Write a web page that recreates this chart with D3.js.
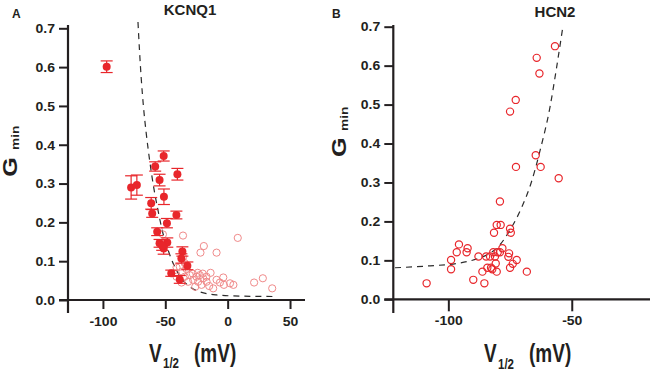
<!DOCTYPE html>
<html>
<head>
<meta charset="utf-8">
<script src="https://cdn.jsdelivr.net/npm/d3@7"></script>
<style>
  html, body { margin: 0; padding: 0; background: #fff; }
  svg { display: block; }
  text { font-family: "Liberation Sans", Arial, Helvetica, sans-serif; font-weight: bold; fill: #231f20; }
</style>
</head>
<body>
<svg id="chart" width="650" height="372"></svg>
<script>
// ---------------- DATA ----------------
const yTicks = [0.0, 0.1, 0.2, 0.3, 0.4, 0.5, 0.6, 0.7];
const xTicksA = [-100, -50, 0, 50];
const xTicksB = [-100, -50];

// Panel A (KCNQ1) filled points with error bars
const kcnqFilledV   = [-97, -77.4, -72.8, -58.1, -51.3, -54.6, -51.1, -40.3, -61.3, -60.5, -41.1, -48.7, -56.5, -54.6, -48.4, -51.3, -52.5, -36.3, -37.1, -32.3, -45.2, -38.4];
const kcnqFilledG   = [0.601, 0.290, 0.296, 0.344, 0.371, 0.309, 0.266, 0.324, 0.249, 0.223, 0.219, 0.198, 0.176, 0.146, 0.148, 0.133, 0.140, 0.125, 0.107, 0.088, 0.069, 0.053];
const kcnqFilledErr = [0.015, 0.030, 0.026, 0.012, 0.013, 0.015, 0.020, 0.015, 0.015, 0.010, 0.010, 0.012, 0.010, 0.010, 0.012, 0.015, 0.012, 0.012, 0.012, 0.010, 0.008, 0.010];

// Panel A open points
const kcnqOpenV = [-51.9, -35.8, -19.1, -21.8, -8.9, 8.1, -41, -38.4, -35.8, -34.4, -36.3, -41, -34.4, -30.4, -27.7, -25, -22.3, -19.6, -23.7, -21, -16.9, -13.7, -11.6, -8.9, -6.2, -3.5, -3, 1.9, 4.6, 21.2, 28.2, 35.7, -31.7, -37, -26, -17, -14.8, -28, -24, -20, -33];
const kcnqOpenG = [0.169, 0.166, 0.139, 0.122, 0.122, 0.160, 0.084, 0.086, 0.110, 0.095, 0.073, 0.060, 0.060, 0.064, 0.052, 0.060, 0.064, 0.056, 0.047, 0.039, 0.047, 0.070, 0.030, 0.052, 0.045, 0.058, 0.039, 0.043, 0.039, 0.045, 0.056, 0.030, 0.047, 0.045, 0.034, 0.060, 0.036, 0.068, 0.070, 0.068, 0.080];

// Panel A dashed fit
const kcnqFitV = [-71.9, -70.7, -69.4, -67.5, -65.3, -62.6, -59.4, -55.9, -51.9, -47.8, -42.5, -37.1, -30.4, -22.3, -8.9, 9.9, 36.8];
const kcnqFitG = [0.716, 0.644, 0.576, 0.498, 0.430, 0.361, 0.292, 0.232, 0.172, 0.129, 0.086, 0.056, 0.034, 0.021, 0.013, 0.010, 0.009];

// Panel B (HCN2) open points
const hcnV = [-108.8, -98.9, -98.9, -96.6, -95.7, -92.6, -92.2, -89.9, -87.8, -86.2, -85.4, -84.7, -84.2, -83.1, -82.7, -82.2, -81.8, -81.5, -81.1, -80.8, -80.4, -80.0, -80.4, -78.8, -79.1, -79.1, -78.1, -75.7, -75.4, -75.0, -74.7, -75.0, -73.9, -75.0, -72.7, -72.6, -72.3, -68.2, -64.6, -64.2, -63.1, -62.6, -56.8, -55.3];
const hcnG = [0.041, 0.101, 0.077, 0.121, 0.141, 0.121, 0.131, 0.050, 0.110, 0.071, 0.041, 0.110, 0.081, 0.110, 0.081, 0.077, 0.121, 0.171, 0.110, 0.092, 0.071, 0.121, 0.191, 0.191, 0.251, 0.121, 0.131, 0.109, 0.118, 0.181, 0.171, 0.081, 0.091, 0.482, 0.512, 0.340, 0.101, 0.071, 0.370, 0.620, 0.580, 0.340, 0.650, 0.311];

// Panel B dashed fit
const hcnFitV = [-121.6, -107.4, -96.6, -89.9, -84.5, -80.4, -75.0, -70.0, -66.5, -62.8, -58.8, -56.1, -53.6];
const hcnFitG = [0.081, 0.086, 0.092, 0.101, 0.114, 0.131, 0.178, 0.240, 0.298, 0.383, 0.494, 0.597, 0.700];

// ---------------- DRAW ----------------
const svg = d3.select("#chart");
const RED = "#e8262b";
const RED_LIGHT = "#f08a8a";
const AX = "#231f20";
const fmtTick = d => String(d);

function panel(cfg) {
  const g = svg.append("g");
  const x = d3.scaleLinear().domain(cfg.xDomain).range(cfg.xRange);
  const y = d3.scaleLinear().domain([0, 0.7]).range(cfg.yRange);
  const ax0 = cfg.xRange[0];
  const y0 = y(0);

  // y ticks
  const yAxis = g.append("g").attr("transform", `translate(${ax0},0)`)
    .call(d3.axisLeft(y).tickValues(yTicks).tickSize(9).tickPadding(4).tickFormat(d => d.toFixed(1)));
  yAxis.attr("font-family", null).attr("font-size", null);
  yAxis.select(".domain").remove();
  yAxis.selectAll("line").attr("stroke", AX).attr("stroke-width", 2);
  yAxis.selectAll("text").attr("font-size", 14).attr("fill", AX)
    .attr("dy", "0.36em").attr("transform", "scale(1,0.85)");

  // x ticks
  const xAxis = g.append("g").attr("transform", `translate(0,${y0})`)
    .call(d3.axisBottom(x).tickValues(cfg.xTicks).tickSize(cfg.xTickLen).tickPadding(4).tickFormat(fmtTick));
  xAxis.attr("font-family", null).attr("font-size", null);
  xAxis.select(".domain").remove();
  xAxis.selectAll("line").attr("stroke", AX).attr("stroke-width", 2);
  xAxis.selectAll("text").attr("font-size", 14).attr("fill", AX)
    .attr("y", 26 / 0.85).attr("dy", 0).attr("transform", "scale(1,0.85)");

  // axis lines
  g.append("line").attr("x1", ax0).attr("x2", ax0).attr("y1", cfg.yAxisTop).attr("y2", cfg.yAxisBottom)
    .attr("stroke", AX).attr("stroke-width", 2.2);
  g.append("line").attr("x1", ax0 - 9).attr("x2", cfg.xRange[1]).attr("y1", y0).attr("y2", y0)
    .attr("stroke", AX).attr("stroke-width", 2.2);

  // dashed fit
  const line = d3.line().x(d => x(d[0])).y(d => y(d[1])).curve(d3.curveMonotoneX);
  g.append("path").datum(cfg.fit).attr("d", line)
    .attr("fill", "none").attr("stroke", "#2b2b2b").attr("stroke-width", 1.2).attr("stroke-dasharray", "6,5");

  // open points
  g.append("g").selectAll("circle").data(cfg.open).join("circle")
    .attr("cx", d => x(d[0])).attr("cy", d => y(d[1])).attr("r", cfg.openR)
    .attr("fill", "none").attr("stroke", cfg.openColor).attr("stroke-width", cfg.openW);

  // filled points with error bars
  if (cfg.filled) {
    const eb = g.append("g").selectAll("g").data(cfg.filled).join("g");
    eb.append("line").attr("x1", d => x(d[0])).attr("x2", d => x(d[0]))
      .attr("y1", d => y(d[1] - d[2])).attr("y2", d => y(d[1] + d[2]))
      .attr("stroke", RED).attr("stroke-width", 1.2);
    eb.append("line").attr("x1", d => x(d[0]) - 6).attr("x2", d => x(d[0]) + 6)
      .attr("y1", d => y(d[1] + d[2])).attr("y2", d => y(d[1] + d[2]))
      .attr("stroke", RED).attr("stroke-width", 1.2);
    eb.append("line").attr("x1", d => x(d[0]) - 6).attr("x2", d => x(d[0]) + 6)
      .attr("y1", d => y(d[1] - d[2])).attr("y2", d => y(d[1] - d[2]))
      .attr("stroke", RED).attr("stroke-width", 1.2);
    eb.append("circle").attr("cx", d => x(d[0])).attr("cy", d => y(d[1])).attr("r", 4)
      .attr("fill", RED);
  }

  // title & letter
  svg.append("text").attr("x", cfg.titleX).attr("y", cfg.titleY).attr("text-anchor", "middle")
    .attr("font-size", 15).attr("fill", AX).text(cfg.title);
  svg.append("text").attr("x", cfg.letterX).attr("y", cfg.letterY)
    .attr("font-size", 12).attr("fill", AX).text(cfg.letter);

  // x axis title: V 1/2 (mV)  (separate text pieces, vertically stretched)
  const sy = 1.35;
  svg.append("text").attr("transform", `translate(${cfg.vX},${cfg.vY}) scale(1,${sy})`)
    .attr("font-size", 19).attr("fill", AX).text("V");
  svg.append("text").attr("transform", `translate(${cfg.vX + 14},${cfg.vY + 6.5}) scale(1,${sy})`)
    .attr("font-size", 11.5).attr("fill", AX).text("1/2");
  svg.append("text").attr("transform", `translate(${cfg.vX + 45},${cfg.vY}) scale(1,${sy})`)
    .attr("font-size", 19).attr("fill", AX).text("(mV)");

  // y axis title: G min (rotated, stretched along text)
  svg.append("text").attr("transform", `translate(${cfg.gX},${cfg.gY}) rotate(-90) scale(1.25,1)`)
    .attr("font-size", 20).attr("fill", AX).text("G");
  svg.append("text").attr("transform", `translate(${cfg.minX},${cfg.minY}) rotate(-90) scale(1.25,1)`)
    .attr("font-size", 11).attr("fill", AX).text("min");
}

panel({
  xDomain: [-128, 62], xRange: [68, 305], yRange: [300, 28.3],
  yAxisTop: 25, yAxisBottom: 313, xTicks: xTicksA, xTickLen: 9,
  fit: kcnqFitV.map((v, i) => [v, kcnqFitG[i]]),
  open: kcnqOpenV.map((v, i) => [v, kcnqOpenG[i]]), openR: 3.6, openColor: RED_LIGHT, openW: 1,
  filled: kcnqFilledV.map((v, i) => [v, kcnqFilledG[i], kcnqFilledErr[i]]),
  title: "KCNQ1", titleX: 190, titleY: 15, letter: "A", letterX: 12, letterY: 18,
  vX: 149, vY: 361.5, gX: 16.5, gY: 176.7, minX: 18.6, minY: 150
});

panel({
  xDomain: [-122.3, -18.3], xRange: [393.3, 650], yRange: [299.3, 26.7],
  yAxisTop: 25, yAxisBottom: 313, xTicks: xTicksB, xTickLen: 12,
  fit: hcnFitV.map((v, i) => [v, hcnFitG[i]]),
  open: hcnV.map((v, i) => [v, hcnG[i]]), openR: 3.6, openColor: RED, openW: 1.2,
  filled: null,
  title: "HCN2", titleX: 555, titleY: 16.5, letter: "B", letterX: 332, letterY: 18,
  vX: 484, vY: 362, gX: 346, gY: 157, minX: 348, minY: 131
});
</script>
</body>
</html>
